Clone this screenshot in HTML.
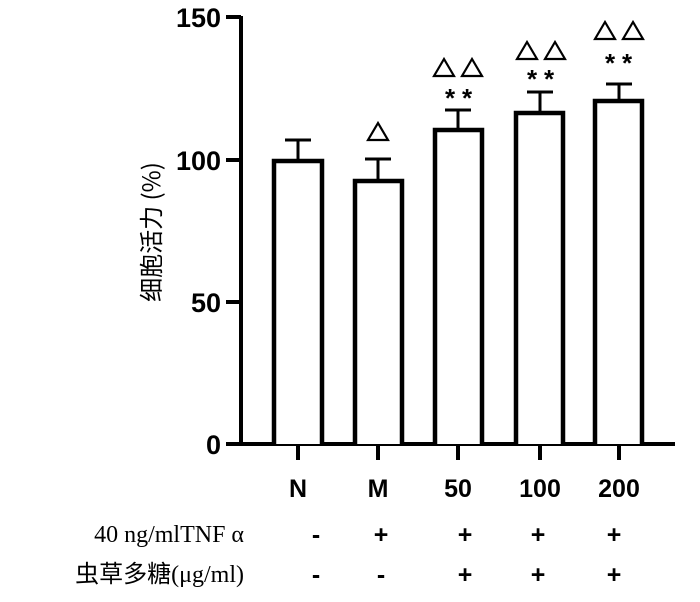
<!DOCTYPE html><html><head><style>body{margin:0;background:#fff}</style></head><body>
<svg width="700" height="597" viewBox="0 0 700 597" xmlns="http://www.w3.org/2000/svg" font-family="'Liberation Sans','Noto Sans CJK SC',sans-serif">
<g stroke="#000" stroke-width="4" fill="none">
<line x1="241" y1="16" x2="241" y2="445"/>
<line x1="226" y1="444" x2="675" y2="444"/>
<line x1="226" y1="17" x2="241" y2="17"/>
<line x1="226" y1="160" x2="241" y2="160"/>
<line x1="226" y1="302" x2="241" y2="302"/>
<line x1="298" y1="444" x2="298" y2="460"/>
<line x1="378" y1="444" x2="378" y2="460"/>
<line x1="458" y1="444" x2="458" y2="460"/>
<line x1="540" y1="444" x2="540" y2="460"/>
<line x1="619" y1="444" x2="619" y2="460"/>
</g>
<g stroke="#000" stroke-width="4.5" fill="#fff">
<path d="M274,444V161H322V444"/>
<path d="M355,444V181H402V444"/>
<path d="M435,444V130H482V444"/>
<path d="M516,444V113H563V444"/>
<path d="M595,444V101H642V444"/>
</g>
<g stroke="#000" stroke-width="3">
<line x1="298" y1="159" x2="298" y2="140"/><line x1="285" y1="140" x2="311" y2="140"/>
<line x1="378" y1="179" x2="378" y2="159"/><line x1="365" y1="159" x2="391" y2="159"/>
<line x1="458" y1="128" x2="458" y2="110"/><line x1="445" y1="110" x2="471" y2="110"/>
<line x1="540" y1="111" x2="540" y2="92"/><line x1="527" y1="92" x2="553" y2="92"/>
<line x1="619" y1="99" x2="619" y2="84"/><line x1="606" y1="84" x2="632" y2="84"/>
</g>
<g font-size="27" font-weight="bold" text-anchor="end">
<text x="221" y="27">150</text><text x="221" y="170">100</text><text x="221" y="312">50</text><text x="221" y="454">0</text>
</g>
<g font-size="25" font-weight="bold" text-anchor="middle">
<text x="298" y="497">N</text><text x="378" y="497">M</text><text x="458" y="497">50</text><text x="540" y="497">100</text><text x="619" y="497">200</text>
</g>
<g fill="none" stroke="#000" stroke-width="2.2">
<path d="M378,123L368,140H388Z"/>
<path d="M444,59L434,76H454Z"/><path d="M472,59L462,76H482Z"/>
<path d="M527,42L517,59H537Z"/><path d="M555,42L545,59H565Z"/>
<path d="M605,22L595,39H615Z"/><path d="M633,22L623,39H643Z"/>
</g>
<g font-size="26" font-weight="bold" text-anchor="middle">
<text x="450" y="107">*</text><text x="467" y="107">*</text>
<text x="532" y="88">*</text><text x="549" y="88">*</text>
<text x="610" y="72">*</text><text x="627" y="72">*</text>
</g>
<text transform="translate(160,232) rotate(-90)" font-size="24" text-anchor="middle" font-family="'Noto Sans CJK SC',sans-serif">细胞活力 (%)</text>
<text x="244" y="542" font-size="24" text-anchor="end" font-family="'Liberation Serif','Noto Serif CJK SC',serif">40 ng/mlTNF α</text>
<text x="244" y="582" font-size="24" text-anchor="end" font-family="'Liberation Serif','Noto Sans CJK SC',serif">虫草多糖(μg/ml)</text>
<g font-size="25" font-weight="bold" text-anchor="middle">
<text x="316" y="543">-</text><text x="381" y="543">+</text><text x="465" y="543">+</text><text x="538" y="543">+</text><text x="614" y="543">+</text>
<text x="316" y="583">-</text><text x="381" y="583">-</text><text x="465" y="583">+</text><text x="538" y="583">+</text><text x="614" y="583">+</text>
</g>
</svg></body></html>
